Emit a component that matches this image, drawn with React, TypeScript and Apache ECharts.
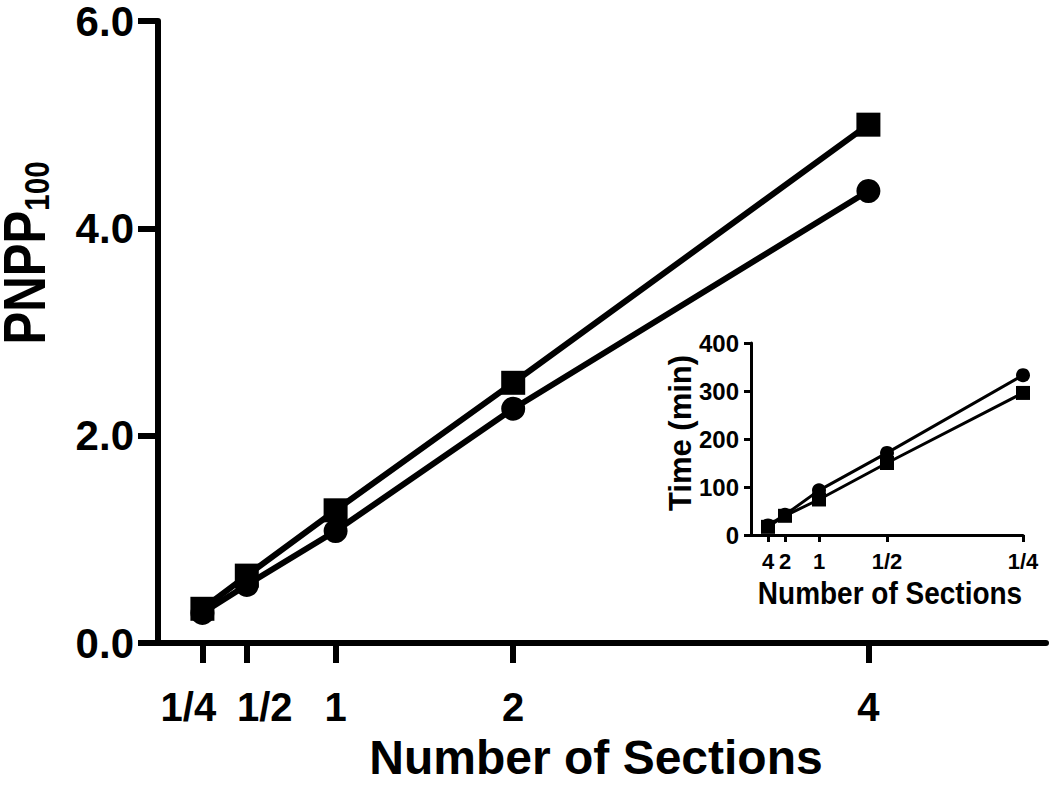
import React, { useEffect, useRef } from "react";
import * as echarts from "echarts";

// Main chart data
const mainX = [0.25, 0.5, 1, 2, 4];
const mainTickLabels = ["1/4", "1/2", "1", "2", "4"];
const mainSquares = [0.33, 0.65, 1.28, 2.51, 5.0];
const mainCircles = [0.29, 0.56, 1.08, 2.26, 4.36];

// Inset data
const insetX = [0.25, 0.5, 1, 2, 4];
const insetTickLabels = ["4", "2", "1", "1/2", "1/4"];
const insetSquares = [17, 40, 74, 150, 296];
const insetCircles = [20, 42, 93, 171, 333];

const FONT = "'Liberation Sans', Arial, Helvetica, sans-serif";

function pairs(xs: number[], ys: number[]) {
  return xs.map((x, i) => [x, ys[i]]);
}

export default function App() {
  const ref = useRef<HTMLDivElement>(null);

  useEffect(() => {
    if (!ref.current) return;
    const chart = echarts.init(ref.current, undefined, { renderer: "svg" });
    const black = "#000";
    const mainLabelMap: Record<string, string> = {};
    mainX.forEach((v, i) => (mainLabelMap[String(v)] = mainTickLabels[i]));
    const insetLabelMap: Record<string, string> = {};
    insetX.forEach((v, i) => (insetLabelMap[String(v)] = insetTickLabels[i]));

    // main x ticks split across two coincident axes so the close labels are not auto-hidden
    const mainXA = mainX.filter((_, i) => i % 2 === 0); // 1/4, 1, 4
    const mainXB = mainX.filter((_, i) => i % 2 === 1); // 1/2, 2

    const mainLabelStyle = {
      fontSize: 40,
      fontWeight: "bold",
      fontFamily: FONT,
      color: black,
      margin: 44,
      interval: 0,
      hideOverlap: false,
      showMinLabel: true,
      showMaxLabel: true,
      formatter: (v: number) => {
        const t = mainLabelMap[String(v)] ?? "";
        if (v === mainX[0]) return `{l|${t}}`;
        if (v === mainX[1]) return `{r|${t}}`;
        return `{n|${t}}`;
      },
      rich: {
        n: { fontSize: 40, fontWeight: "bold", fontFamily: FONT, color: black },
        l: { fontSize: 40, fontWeight: "bold", fontFamily: FONT, color: black, padding: [0, 28, 0, 0] },
        r: { fontSize: 40, fontWeight: "bold", fontFamily: FONT, color: black, padding: [0, 0, 0, 36] },
      },
    };

    chart.setOption({
      animation: false,
      backgroundColor: "#fff",
      grid: [
        { left: 158, top: 15, width: 888, height: 628, containLabel: false },
        { left: 751, top: 343, width: 272, height: 192, containLabel: false },
      ],
      xAxis: [
        {
          gridIndex: 0,
          type: "value",
          position: "bottom",
          min: 0,
          max: 5,
          splitLine: { show: false },
          axisLine: { lineStyle: { color: black, width: 6 } },
          axisTick: { customValues: mainXA, interval: 0, length: 20, lineStyle: { color: black, width: 6 } },
          axisLabel: { ...mainLabelStyle, customValues: mainXA },
        },
        {
          gridIndex: 1,
          type: "value",
          min: 0,
          max: 4,
          splitLine: { show: false },
          axisLine: { lineStyle: { color: black, width: 3 } },
          axisTick: { customValues: insetX, interval: 0, length: 7, lineStyle: { color: black, width: 3 } },
          axisLabel: {
            customValues: insetX,
            interval: 0,
            hideOverlap: false,
            showMinLabel: true,
            formatter: (v: number) => insetLabelMap[String(v)] ?? "",
            fontSize: 22,
            fontWeight: "bold",
            fontFamily: FONT,
            color: black,
            margin: 15,
          },
        },
        {
          gridIndex: 0,
          type: "value",
          position: "bottom",
          offset: 0,
          min: 0,
          max: 5,
          splitLine: { show: false },
          axisLine: { show: false },
          axisTick: { show: true, customValues: mainXB, interval: 0, length: 20, lineStyle: { color: black, width: 6 } },
          axisLabel: { ...mainLabelStyle, customValues: mainXB },
        },
      ],
      yAxis: [
        {
          gridIndex: 0,
          type: "value",
          min: 0,
          max: 6,
          interval: 2,
          splitLine: { show: false },
          axisLine: { show: true, lineStyle: { color: black, width: 6 } },
          axisTick: { show: true, length: 20, lineStyle: { color: black, width: 6 } },
          axisLabel: {
            formatter: (v: number) => v.toFixed(1),
            fontSize: 42,
            lineHeight: 30,
            fontWeight: "bold",
            fontFamily: FONT,
            color: black,
            margin: 24,
          },
        },
        {
          gridIndex: 1,
          type: "value",
          min: 0,
          max: 400,
          interval: 100,
          splitLine: { show: false },
          axisLine: { show: true, lineStyle: { color: black, width: 3 } },
          axisTick: { show: true, length: 7, lineStyle: { color: black, width: 3 } },
          axisLabel: {
            fontSize: 24,
            fontWeight: "bold",
            fontFamily: FONT,
            color: black,
            margin: 12,
          },
        },
      ],
      series: [
        {
          type: "line",
          xAxisIndex: 0,
          yAxisIndex: 0,
          data: pairs(mainX, mainCircles),
          symbol: "circle",
          symbolSize: 24,
          lineStyle: { color: black, width: 6 },
          itemStyle: { color: black },
        },
        {
          type: "line",
          xAxisIndex: 0,
          yAxisIndex: 0,
          data: pairs(mainX, mainSquares),
          symbol: "rect",
          symbolSize: 24,
          lineStyle: { color: black, width: 6 },
          itemStyle: { color: black },
        },
        {
          type: "line",
          xAxisIndex: 1,
          yAxisIndex: 1,
          data: pairs(insetX, insetCircles),
          symbol: "circle",
          symbolSize: 14,
          lineStyle: { color: black, width: 3 },
          itemStyle: { color: black },
        },
        {
          type: "line",
          xAxisIndex: 1,
          yAxisIndex: 1,
          data: pairs(insetX, insetSquares),
          symbol: "rect",
          symbolSize: 14,
          lineStyle: { color: black, width: 3 },
          itemStyle: { color: black },
        },
      ],
      graphic: [
        {
          type: "text",
          x: 596,
          y: 757,
          style: {
            text: "Number of Sections",
            fontSize: 48,
            fontWeight: "bold",
            fontFamily: FONT,
            fill: black,
            textAlign: "center",
            textVerticalAlign: "middle",
          },
        },
        {
          type: "text",
          x: 31,
          y: 253,
          rotation: Math.PI / 2,
          scaleX: 0.82,
          style: {
            text: "{a|PNPP}{b|100}",
            textAlign: "center",
            textVerticalAlign: "middle",
            fill: black,
            rich: {
              a: { fontSize: 60, fontWeight: "bold", fontFamily: FONT, fill: black, verticalAlign: "bottom", lineHeight: 46 },
              b: { fontSize: 36, fontWeight: "bold", fontFamily: FONT, fill: black, verticalAlign: "bottom", lineHeight: 46 },
            },
          },
        },
        {
          type: "text",
          x: 890,
          y: 593,
          scaleY: 1.15,
          style: {
            text: "Number of Sections",
            fontSize: 28,
            fontWeight: "bold",
            fontFamily: FONT,
            fill: black,
            textAlign: "center",
            textVerticalAlign: "middle",
          },
        },
        {
          type: "text",
          x: 680,
          y: 433,
          rotation: Math.PI / 2,
          style: {
            text: "Time (min)",
            fontSize: 31,
            fontWeight: "bold",
            fontFamily: FONT,
            fill: black,
            textAlign: "center",
            textVerticalAlign: "middle",
          },
        },
      ],
    });
    return () => chart.dispose();
  }, []);

  return (
    <div
      ref={ref}
      style={{ position: "fixed", left: 0, top: 0, width: 1050, height: 788, background: "#fff" }}
    />
  );
}
